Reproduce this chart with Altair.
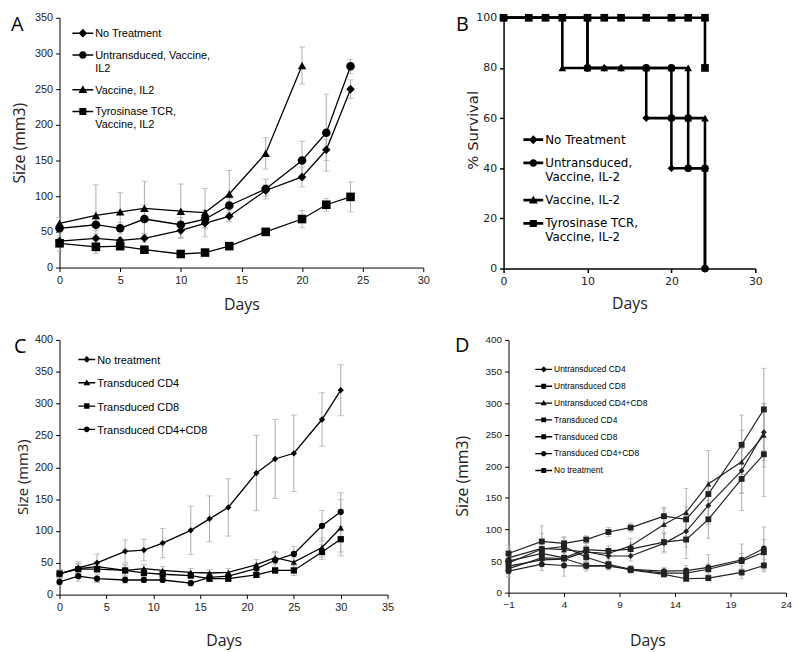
import altair as alt
import pandas as pd

# ---------------- Panel A : tumour size ----------------
a_names = ["No Treatment", "Untransduced, Vaccine,\nIL2", "Vaccine, IL2", "Tyrosinase TCR,\nVaccine, IL2"]
a_shapes = ["diamond", "circle", "triangle-up", "square"]
a_days = [0, 3, 5, 7, 10, 12, 14, 17, 20, 22, 24]
a_no_treatment = [37, 41, 38, 41, 52, 62, 72, 108, 127, 165, 250]
a_no_treatment_err = [5, 6, 5, 6, 10, 8, 8, 8, 14, 15, 13]
a_untransduced = [55, 60, 55, 68, 60, 68, 87, 110, 150, 189, 282]
a_untransduced_err = [6, 8, 8, 20, 10, 12, 10, 14, 27, 54, 10]
a_vaccine_days = [0, 3, 5, 7, 10, 12, 14, 17, 20]
a_vaccine = [62, 73, 78, 83, 79, 77, 103, 160, 283]
a_vaccine_err = [8, 43, 27, 38, 38, 34, 33, 22, 26]
a_tyrosinase = [34, 29, 30, 25, 19, 21, 30, 50, 68, 88, 99]
a_tyrosinase_err = [11, 9, 5, 5, 3, 4, 3, 4, 12, 9, 21]

# ---------------- Panel B : survival ----------------
b_names = ["No Treatment", "Untransduced,\nVaccine, IL-2", "Vaccine, IL-2", "Tyrosinase TCR,\nVaccine, IL-2"]
b_shapes = ["diamond", "circle", "triangle-up", "square"]
b_no_treatment_days = [0, 10, 10, 12, 14, 17, 17, 20, 20, 22, 24, 24]
b_no_treatment = [100, 100, 80, 80, 80, 80, 60, 60, 40, 40, 40, 0]
b_untransduced_days = [0, 10, 10, 17, 20, 20, 22, 22, 24, 24]
b_untransduced = [100, 100, 80, 80, 80, 60, 60, 40, 40, 0]
b_vaccine_days = [0, 3, 5, 7, 7, 10, 12, 14, 17, 20, 22, 22, 24, 24]
b_vaccine = [100, 100, 100, 100, 80, 80, 80, 80, 80, 80, 80, 60, 60, 40]
b_tyrosinase_days = [0, 3, 5, 7, 10, 12, 14, 17, 20, 22, 24, 24]
b_tyrosinase = [100, 100, 100, 100, 100, 100, 100, 100, 100, 100, 100, 80]

# ---------------- Panel C ----------------
c_names = ["No treatment", "Transduced CD4", "Transduced CD8", "Transduced CD4+CD8"]
c_shapes = ["diamond", "triangle-up", "square", "circle"]
c_days = [0, 2, 4, 7, 9, 11, 14, 16, 18, 21, 23, 25, 28, 30]
c_no_treatment = [32, 42, 50, 68, 70, 81, 101, 119, 137, 191, 213, 222, 275, 321]
c_no_treatment_err = [6, 10, 14, 18, 17, 23, 38, 36, 45, 59, 62, 60, 42, 40]
c_cd4 = [33, 41, 44, 38, 41, 38, 35, 34, 35, 47, 58, 51, 74, 105]
c_cd4_err = [6, 8, 8, 10, 6, 6, 6, 5, 6, 8, 10, 8, 15, 44]
c_cd8 = [33, 40, 40, 38, 34, 32, 30, 25, 25, 31, 38, 38, 67, 87]
c_cd8_err = [6, 8, 6, 8, 6, 5, 5, 4, 4, 4, 5, 8, 12, 20]
c_cd4cd8 = [20, 29, 25, 23, 23, 23, 18, 27, 29, 41, 54, 64, 108, 130]
c_cd4cd8_err = [5, 8, 6, 5, 4, 4, 4, 4, 5, 7, 12, 12, 24, 30]

# ---------------- Panel D ----------------
d_names = ["Untransduced CD4", "Untransduced CD8", "Untransduced CD4+CD8", "Transduced CD4",
           "Transduced CD8", "Transduced CD4+CD8", "No treatment"]
d_shapes = ["diamond", "square", "triangle-up", "square", "square", "circle", "square"]
d_days = [-1, 2, 4, 6, 8, 10, 13, 15, 17, 20, 22]
d_untr_cd4 = [42, 52, 53, 65, 58, 58, 78, 97, 138, 193, 254]
d_untr_cd4_err = [8, 10, 10, 8, 8, 8, 15, 25, 30, 35, 45]
d_untr_cd8 = [50, 62, 55, 68, 66, 69, 80, 84, 116, 180, 219]
d_untr_cd8_err = [25, 15, 15, 10, 8, 10, 15, 30, 30, 50, 67]
d_untr_cd4cd8 = [55, 70, 68, 64, 62, 74, 108, 127, 172, 207, 249]
d_untr_cd4cd8_err = [10, 12, 12, 10, 8, 12, 25, 38, 53, 50, 50]
d_tr_cd4 = [47, 69, 73, 56, 45, 37, 31, 31, 37, 50, 64]
d_tr_cd4_err = [10, 25, 15, 10, 8, 6, 5, 6, 8, 12, 20]
d_tr_cd8 = [38, 55, 54, 43, 43, 36, 29, 22, 23, 32, 43]
d_tr_cd8_err = [8, 10, 10, 6, 6, 5, 4, 4, 4, 10, 10]
d_tr_cd4cd8 = [34, 45, 43, 42, 42, 37, 34, 35, 40, 52, 70]
d_tr_cd4cd8_err = [8, 10, 17, 8, 6, 5, 6, 8, 20, 25, 34]
d_no_treatment = [62, 81, 78, 84, 96, 103, 121, 116, 156, 234, 290]
d_no_treatment_err = [8, 25, 10, 6, 7, 7, 14, 20, 20, 47, 65]

ERR = "#ababab"


def build_df(names, days, values, errs=None):
    rows = []
    for i, name in enumerate(names):
        for j, (d, v) in enumerate(zip(days[i], values[i])):
            r = {"series": name, "day": d, "value": v, "order": j}
            if errs is not None:
                e = errs[i][j]
                r["lo"] = max(0, v - e)
                r["hi"] = v + e
            rows.append(r)
    return pd.DataFrame(rows)


def legend_paths(kinds, t, m, dy):
    out = []
    for k in kinds:
        L = f"M-1,{-t + dy:.3f}H1V{t + dy:.3f}H-1Z"
        if k == "diamond":
            M = f"M0,{-m + dy:.3f}L{m:.3f},{dy:.3f}L0,{m + dy:.3f}L{-m:.3f},{dy:.3f}Z"
        elif k == "circle":
            r = m * 0.85
            M = (f"M{-r:.3f},{dy:.3f}A{r:.3f},{r:.3f} 0 1,1 {r:.3f},{dy:.3f}"
                 f"A{r:.3f},{r:.3f} 0 1,1 {-r:.3f},{dy:.3f}Z")
        elif k == "triangle-up":
            M = f"M0,{-m + dy:.3f}L{m:.3f},{0.75 * m + dy:.3f}L{-m:.3f},{0.75 * m + dy:.3f}Z"
        else:
            s = m * 0.8
            M = f"M{-s:.3f},{-s + dy:.3f}H{s:.3f}V{s + dy:.3f}H{-s:.3f}Z"
        out.append(L + M)
    return out


def panel(df, names, shapes, c):
    W, H = c["w"], c["h"]
    xscale = alt.Scale(domain=c["x_dom"], nice=False, zero=False)
    yscale = alt.Scale(domain=c["y_dom"], nice=False, zero=False)
    common = dict(grid=False, tickSize=4, tickColor="black", domainColor="black",
                  domainWidth=c["aw"], tickWidth=c["aw"], labelFont=c["lab_font"],
                  labelFontSize=c["lab_size"], labelColor="#222", labelPadding=3,
                  titleFontWeight="normal",
                  titleColor="#222", titleBaseline="middle", titleAlign="center",
                  labelFlush=False)
    xaxis = alt.Axis(values=c["x_vals"], title="Days", titleFont=c["xt_font"],
                     titleFontSize=c["tit_size"], titleX=W / 2, titleY=c["xt_y"], **common)
    yaxis = alt.Axis(values=c["y_vals"], title=c["y_title"], titleFont=c["yt_font"],
                     titleFontSize=c["yt_size"], titleX=c["yt_x"], titleY=c["yt_y"],
                     titleAngle=270, **common)

    def X(f):
        return alt.X(f, scale=xscale, axis=xaxis)

    def Y(f):
        return alt.Y(f, scale=yscale, axis=yaxis)

    base = alt.Chart(df)
    layers = []
    if "lo" in df.columns:
        layers.append(base.mark_rule(color=ERR, strokeWidth=1).encode(
            x=X("day:Q"), y=Y("lo:Q"), y2="hi:Q"))
        for f in ("lo:Q", "hi:Q"):
            layers.append(base.mark_tick(color=ERR, orient="horizontal", size=c["cap"],
                                         thickness=1).encode(x=X("day:Q"), y=Y(f)))
    layers.append(base.mark_line(color=c["lc"], strokeWidth=c["lw"]).encode(
        x=X("day:Q"), y=Y("value:Q"), detail="series:N", order="order:Q"))
    layers.append(base.mark_point(filled=True, color=c["lc"], opacity=1, size=c["ps"]).encode(
        x=X("day:Q"), y=Y("value:Q"),
        shape=alt.Shape("series:N", scale=alt.Scale(domain=names, range=shapes), legend=None)))
    leg = alt.Legend(orient="none", legendX=c["lg_x"], legendY=c["lg_y"],
                     labelFont=c["lg_font"], labelFontSize=c["lg_size"], labelColor="black",
                     labelExpr="split(datum.label, '\\n')", labelBaseline="top",
                     labelOffset=c["lg_off"], labelLimit=400, rowPadding=c["lg_pad"],
                     padding=0, symbolSize=c["lg_sym"], symbolFillColor="black",
                     symbolStrokeWidth=0, symbolOpacity=1)
    layers.append(base.transform_filter("false").mark_point(
        filled=True, color="black", size=c["lg_sym"]).encode(
        x=X("day:Q"), y=Y("value:Q"),
        shape=alt.Shape("series:N", title=None,
                        scale=alt.Scale(domain=names,
                                        range=legend_paths(shapes, c["lg_t"], c["lg_m"], c["lg_dy"])),
                        legend=leg)))
    layers.append(alt.Chart(pd.DataFrame({"t": [c["letter"]]})).mark_text(
        font="Open Sans", fontSize=20, align="left", baseline="top", color="black").encode(
        text="t:N", x=alt.value(c["lx"]), y=alt.value(c["ly"])))
    return alt.layer(*layers).resolve_scale(shape="independent").properties(width=W, height=H)


df_a = pd.concat([
    build_df(a_names[:2], [a_days, a_days], [a_no_treatment, a_untransduced],
             [a_no_treatment_err, a_untransduced_err]),
    build_df(a_names[2:3], [a_vaccine_days], [a_vaccine], [a_vaccine_err]),
    build_df(a_names[3:], [a_days], [a_tyrosinase], [a_tyrosinase_err]),
], ignore_index=True)
df_b = build_df(b_names,
                [b_no_treatment_days, b_untransduced_days, b_vaccine_days, b_tyrosinase_days],
                [b_no_treatment, b_untransduced, b_vaccine, b_tyrosinase])
df_c = build_df(c_names, [c_days] * 4, [c_no_treatment, c_cd4, c_cd8, c_cd4cd8],
                [c_no_treatment_err, c_cd4_err, c_cd8_err, c_cd4cd8_err])
df_d = build_df(d_names, [d_days] * 7,
                [d_untr_cd4, d_untr_cd8, d_untr_cd4cd8, d_tr_cd4, d_tr_cd8, d_tr_cd4cd8, d_no_treatment],
                [d_untr_cd4_err, d_untr_cd8_err, d_untr_cd4cd8_err, d_tr_cd4_err, d_tr_cd8_err,
                 d_tr_cd4cd8_err, d_no_treatment_err])

HELV = "Liberation Sans"
panel_a = panel(df_a, a_names, a_shapes, dict(
    w=367, h=252, x_dom=[0, 30], x_vals=list(range(0, 31, 5)), y_dom=[0, 350],
    y_vals=list(range(0, 351, 50)), aw=1, lab_font=HELV, lab_size=11, tit_size=16, yt_size=16,
    xt_font="Open Sans", yt_font="Open Sans", y_title="Size (mm3)", xt_y=37, yt_x=-40, yt_y=126,
    lc="black", lw=1.3, ps=75, cap=6,
    lg_x=13, lg_y=0, lg_font=HELV, lg_size=11, lg_off=2, lg_pad=0, lg_sym=441,
    lg_t=0.07, lg_m=0.42, lg_dy=0.48, letter="A", lx=-49, ly=-3))
panel_b = panel(df_b, b_names, b_shapes, dict(
    w=254, h=253, x_dom=[0, 30], x_vals=[0, 10, 20, 30], y_dom=[0, 100],
    y_vals=list(range(0, 101, 20)), aw=1.5, lab_font="DejaVu Sans", lab_size=11, tit_size=16,
    yt_size=15, xt_font="Open Sans", yt_font="DejaVu Sans", y_title="% Survival", xt_y=35,
    yt_x=-31, yt_y=113,
    lc="black", lw=2.6, ps=60, cap=6,
    lg_x=20, lg_y=108, lg_font="DejaVu Sans", lg_size=12, lg_off=2, lg_pad=2.5, lg_sym=400,
    lg_t=0.14, lg_m=0.45, lg_dy=0.5, letter="B", lx=-48, ly=-3))
panel_c = panel(df_c, c_names, c_shapes, dict(
    w=331, h=257, x_dom=[0, 35], x_vals=list(range(0, 36, 5)), y_dom=[0, 400],
    y_vals=list(range(0, 401, 50)), aw=1, lab_font=HELV, lab_size=11, tit_size=16, yt_size=15,
    xt_font="Open Sans", yt_font="Open Sans", y_title="Size (mm3)", xt_y=46, yt_x=-37, yt_y=138,
    lc="black", lw=1.3, ps=40, cap=6,
    lg_x=19, lg_y=7, lg_font=HELV, lg_size=11, lg_off=2, lg_pad=3.5, lg_sym=289,
    lg_t=0.08, lg_m=0.4, lg_dy=0.5, letter="C", lx=-46, ly=-3))
panel_d = panel(df_d, d_names, d_shapes, dict(
    w=280, h=255, x_dom=[-1, 24], x_vals=[-1, 4, 9, 14, 19, 24], y_dom=[0, 400],
    y_vals=list(range(0, 401, 50)), aw=1, lab_font=HELV, lab_size=10, tit_size=16, yt_size=16,
    xt_font="Open Sans", yt_font="Open Sans", y_title="Size (mm3)", xt_y=48, yt_x=-46, yt_y=137,
    lc="#222222", lw=1.2, ps=35, cap=5,
    lg_x=27, lg_y=17, lg_font=HELV, lg_size=8.5, lg_off=2, lg_pad=0, lg_sym=289,
    lg_t=0.08, lg_m=0.36, lg_dy=0.5, letter="D", lx=-54, ly=-4))

row1 = alt.hconcat(panel_a, panel_b, spacing=26)
row2 = alt.hconcat(panel_c, panel_d, spacing=61)
chart = alt.vconcat(row1, row2, spacing=22).properties(
    padding={"left": 3, "top": 1, "right": 0, "bottom": 0}
).configure_view(stroke=None)

chart.save("out.html", embed_options={"renderer": "svg", "actions": False})
